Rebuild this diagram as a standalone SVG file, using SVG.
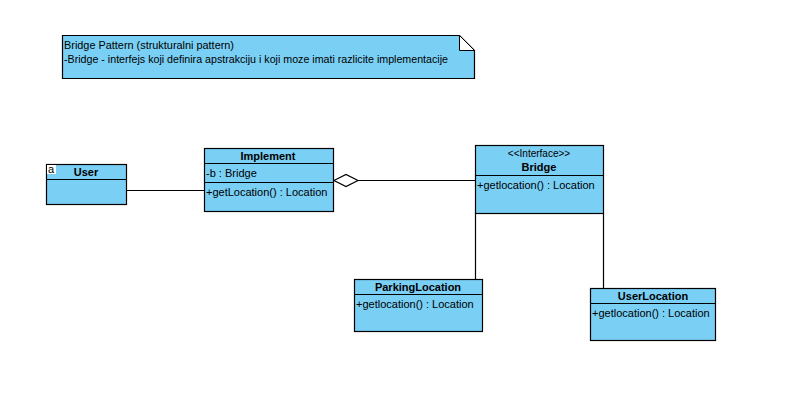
<svg xmlns="http://www.w3.org/2000/svg" width="810" height="405" viewBox="0 0 810 405">
<style>
.box{fill:#7ACFF5;stroke:#000;stroke-width:1.2}
.ln{stroke:#000;stroke-width:1.2;fill:none}
text{font-family:"Liberation Sans",Arial,sans-serif;font-size:11px;fill:#000}
.b{font-weight:bold;text-anchor:middle}
.c{text-anchor:middle}
</style>
<rect width="810" height="405" fill="#fff"/>
<g id="note">
<path class="box" d="M62.5,35.5 H459.5 L474.5,50.5 V78.5 H62.5 Z"/>
<path d="M459.5,35.5 V50.5 H474.5 Z" fill="#fff" stroke="#000" stroke-width="1"/>
<text x="64" y="49" textLength="170" lengthAdjust="spacingAndGlyphs">Bridge Pattern (strukturalni pattern)</text>
<text x="64" y="63" textLength="384" lengthAdjust="spacingAndGlyphs">-Bridge - interfejs koji definira apstrakciju i koji moze imati razlicite implementacije</text>
</g>
<g id="connectors">
<line class="ln" x1="126" y1="190.5" x2="204" y2="190.5"/>
<line class="ln" x1="358" y1="180.5" x2="475" y2="180.5"/>
<path d="M334,180.5 L346,174.5 L358,180.5 L346,186.5 Z" fill="#fff" stroke="#000" stroke-width="1.2"/>
<line class="ln" x1="475.5" y1="213" x2="475.5" y2="279"/>
<line class="ln" x1="603.5" y1="213" x2="603.5" y2="288"/>
</g>
<g id="User">
<rect class="box" x="46.5" y="164.5" width="80" height="40"/>
<line class="ln" x1="46.5" y1="179.5" x2="126.5" y2="179.5"/>
<rect x="47" y="165" width="9" height="9" fill="#fff"/>
<text x="48" y="173">a</text>
<text class="b" x="86" y="176">User</text>
</g>
<g id="Implement">
<rect class="box" x="204.5" y="148.5" width="129" height="63"/>
<line class="ln" x1="204.5" y1="163.5" x2="333.5" y2="163.5"/>
<line class="ln" x1="204.5" y1="182.5" x2="333.5" y2="182.5"/>
<text class="b" x="268" y="160">Implement</text>
<text x="206" y="177">-b : Bridge</text>
<text x="206" y="196">+getLocation() : Location</text>
</g>
<g id="Bridge">
<rect class="box" x="475.5" y="145.5" width="128" height="68"/>
<line class="ln" x1="475.5" y1="175.5" x2="603.5" y2="175.5"/>
<text class="c" x="539" y="157" style="font-size:10px">&lt;&lt;Interface&gt;&gt;</text>
<text class="b" x="539" y="171">Bridge</text>
<text x="477" y="189">+getlocation() : Location</text>
</g>
<g id="ParkingLocation">
<rect class="box" x="354.5" y="279.5" width="128" height="52"/>
<line class="ln" x1="354.5" y1="294.5" x2="482.5" y2="294.5"/>
<text class="b" x="418" y="291">ParkingLocation</text>
<text x="356" y="308">+getlocation() : Location</text>
</g>
<g id="UserLocation">
<rect class="box" x="590.5" y="288.5" width="125" height="52"/>
<line class="ln" x1="590.5" y1="303.5" x2="715.5" y2="303.5"/>
<text class="b" x="653" y="300">UserLocation</text>
<text x="592" y="317">+getlocation() : Location</text>
</g>
</svg>
